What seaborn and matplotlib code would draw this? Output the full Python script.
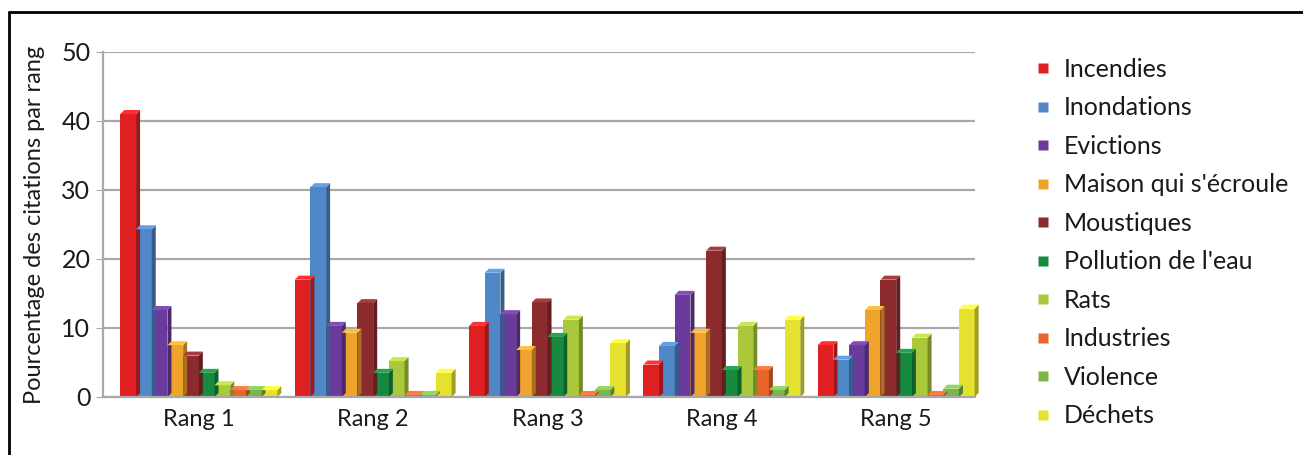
import matplotlib
matplotlib.use('Agg')
import matplotlib.pyplot as plt
import matplotlib.colors as mcolors
from matplotlib.patches import Polygon
from matplotlib.lines import Line2D
import pandas as pd
import seaborn as sns

# Data
rangs = ['Rang 1', 'Rang 2', 'Rang 3', 'Rang 4', 'Rang 5']
categories = ['Incendies', 'Inondations', 'Evictions', "Maison qui s'écroule", 'Moustiques',
              "Pollution de l'eau", 'Rats', 'Industries', 'Violence', 'Déchets']
incendies = [41.0, 17.0, 10.3, 4.7, 7.5]
inondations = [24.3, 30.4, 18.0, 7.4, 5.4]
evictions = [12.6, 10.3, 12.0, 14.8, 7.5]
maison = [7.5, 9.3, 6.8, 9.3, 12.6]
moustiques = [6.0, 13.6, 13.7, 21.2, 17.0]
pollution = [3.5, 3.5, 8.7, 3.9, 6.4]
rats = [1.7, 5.2, 11.2, 10.3, 8.6]
industries = [1.0, 0.3, 0.3, 3.9, 0.3]
violence = [1.0, 0.3, 1.0, 1.0, 1.2]
dechets = [1.0, 3.5, 7.8, 11.2, 12.8]
series = [incendies, inondations, evictions, maison, moustiques,
          pollution, rats, industries, violence, dechets]
colors = ['#e01f22', '#4f87c7', '#6a3a9c', '#f0a32a', '#8c2b2d',
          '#168a3e', '#a9c83b', '#e8642a', '#78b64a', '#e6e12e']

rows = []
for cat, vals in zip(categories, series):
    for r, v in zip(rangs, vals):
        rows.append({'rang': r, 'cat': cat, 'val': v})
df = pd.DataFrame(rows)

sns.set_style('white')
plt.rcParams['font.family'] = ['Lato', 'DejaVu Sans']
plt.rcParams['text.color'] = '#1a1a1a'
plt.rcParams['xtick.color'] = '#1a1a1a'
plt.rcParams['ytick.color'] = '#1a1a1a'
plt.rcParams['axes.labelcolor'] = '#1a1a1a'

fig = plt.figure(figsize=(13.03, 4.55), dpi=100)
ax = fig.add_axes([0.079, 0.1275, 0.669, 0.7585])

sns.barplot(data=df, x='rang', y='val', hue='cat', hue_order=categories,
            palette=colors, width=0.9, saturation=1, ax=ax, legend=False,
            edgecolor='none', linewidth=0)

ax.set_ylim(0, 50)
ax.set_xlim(-0.55, 4.45)
ax.set_yticks([0, 10, 20, 30, 40, 50])
ax.yaxis.grid(True, color='#a8a8a8', linewidth=1.6)
ax.set_axisbelow(True)
for s in ['top', 'right']:
    ax.spines[s].set_visible(False)
ax.spines['left'].set_color('#a8a8a8')
ax.spines['bottom'].set_color('#a8a8a8')
ax.spines['left'].set_linewidth(1.6)
ax.spines['bottom'].set_linewidth(1.6)
ax.tick_params(axis='y', labelsize=18, length=5, color='#a8a8a8', left=True, pad=4)
ax.tick_params(axis='x', labelsize=17, length=0, pad=9)
ax.set_xlabel('')
ax.set_ylabel('Pourcentage des citations par rang', fontsize=17, labelpad=12)

# pseudo 3D faces on each bar
fig.canvas.draw()
inv = ax.transData.inverted()
p0 = inv.transform((0, 0))
p1 = inv.transform((4, 4))
dx, dy = p1[0] - p0[0], p1[1] - p0[1]
for bar in list(ax.patches):
    bar.set_clip_on(False)
    x, w, h = bar.get_x(), bar.get_width(), bar.get_height()
    c = mcolors.to_rgb(bar.get_facecolor())
    dark = tuple(v * 0.7 for v in c)
    light = tuple(min(1, v * 1.1 + 0.05) for v in c)
    side = Polygon([(x + w, 0), (x + w + dx, dy), (x + w + dx, h + dy), (x + w, h)],
                   closed=True, facecolor=dark, edgecolor='none', zorder=bar.get_zorder(),
                   clip_on=False)
    top = Polygon([(x, h), (x + dx, h + dy), (x + w + dx, h + dy), (x + w, h)],
                  closed=True, facecolor=light, edgecolor='none', zorder=bar.get_zorder(),
                  clip_on=False)
    ax.add_patch(side)
    ax.add_patch(top)

handles = [Line2D([0], [0], marker='s', linestyle='none', markersize=7,
                  markerfacecolor=c, markeredgecolor='none') for c in colors]
fig.legend(handles, categories, loc='upper left', bbox_to_anchor=(0.783, 0.895),
           frameon=False, fontsize=18, labelspacing=0.62, handletextpad=0.35,
           handlelength=1.0, borderaxespad=0)

# frame lines (top and left only)
fig.add_artist(Line2D([0.007, 1.0], [0.973, 0.973], color='black', linewidth=2))
fig.add_artist(Line2D([0.007, 0.007], [0.0, 0.973], color='black', linewidth=2))

fig.savefig('out.png', dpi=100)
